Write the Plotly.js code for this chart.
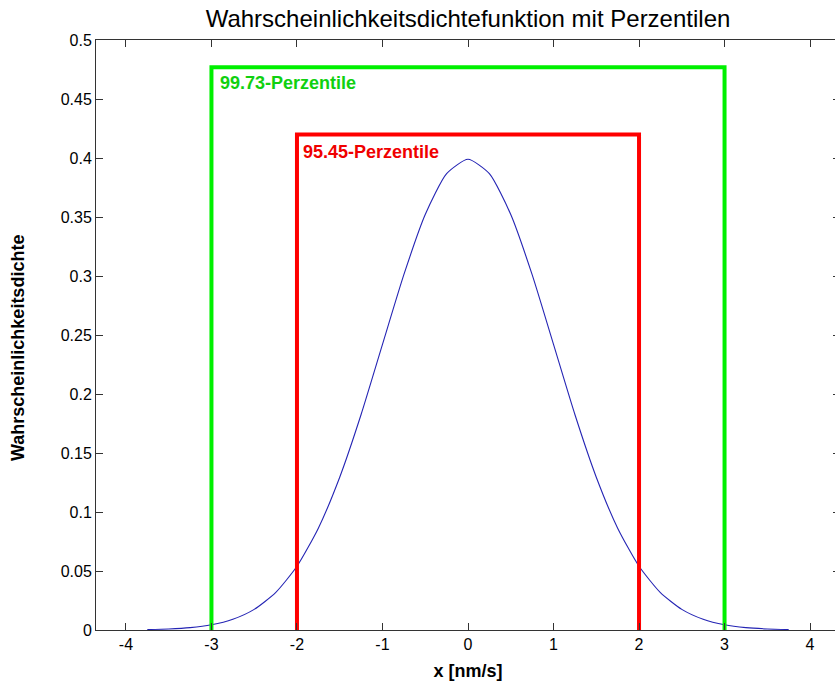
<!DOCTYPE html>
<html>
<head>
<meta charset="utf-8">
<script src="https://cdn.plot.ly/plotly-3.0.1.min.js"></script>
<style>
html,body{margin:0;padding:0;overflow:hidden;background:#fff;}
#chart{width:850px;height:684px;}
</style>
</head>
<body>
<div id="chart"></div>
<script>
// Density curve
const curveX = [-3.75,-3.5,-3.25,-3,-2.75,-2.5,-2.25,-2,-1.75,-1.5,-1.25,-1,-0.75,-0.5,-0.25,0,0.25,0.5,0.75,1,1.25,1.5,1.75,2,2.25,2.5,2.75,3,3.25,3.5,3.75];
const curveY = [0.0004,0.0009,0.002,0.0044,0.0091,0.0175,0.0317,0.054,0.0863,0.1295,0.1826,0.242,0.3011,0.3521,0.3867,0.3989,0.3867,0.3521,0.3011,0.242,0.1826,0.1295,0.0863,0.054,0.0317,0.0175,0.0091,0.0044,0.002,0.0009,0.0004];

// Percentile brackets
const p9973X = [-3,-3,3,3];
const p9973Y = [0,0.477,0.477,0];
const p9545X = [-2,-2,2,2];
const p9545Y = [0,0.42,0.42,0];

const xTickVals = [-4,-3,-2,-1,0,1,2,3,4];
const xTickText = ['-4','-3','-2','-1','0','1','2','3','4'];
const yTickVals = [0,0.05,0.1,0.15,0.2,0.25,0.3,0.35,0.4,0.45,0.5];
const yTickText = ['0','0.05','0.1','0.15','0.2','0.25','0.3','0.35','0.4','0.45','0.5'];

const font = 'Liberation Sans, Arial, Helvetica, sans-serif';

const traces = [
  {x: curveX, y: curveY, mode: 'lines', line: {color: '#2424b4', width: 1.1, shape: 'spline', smoothing: 0.6}, hoverinfo: 'skip'},
  {x: p9973X, y: p9973Y, mode: 'lines', line: {color: '#00f000', width: 4}},
  {x: p9545X, y: p9545Y, mode: 'lines', line: {color: '#ff0000', width: 4}}
];

const layout = {
  width: 850, height: 684,
  margin: {l: 96, r: 10, t: 40, b: 54},
  paper_bgcolor: '#fff', plot_bgcolor: '#fff',
  showlegend: false,
  font: {family: font, color: '#000', size: 16},
  title: {text: 'Wahrscheinlichkeitsdichtefunktion mit Perzentilen', font: {family: font, size: 24, color: '#000'}, x: 0.5, xanchor: 'center', y: 0.973, yanchor: 'middle', xref: 'paper'},
  xaxis: {
    range: [-4.35, 4.35], tickmode: 'array', tickvals: xTickVals, ticktext: xTickText,
    ticks: 'inside', ticklen: 7, tickcolor: '#333', tickwidth: 1,
    showline: true, linecolor: '#333', linewidth: 1, mirror: 'ticks',
    showgrid: false, zeroline: false,
    tickfont: {family: font, size: 16, color: '#000'},
    title: {text: '<b>x [nm/s]</b>', font: {family: font, size: 18, color: '#000'}, standoff: 12}
  },
  yaxis: {
    range: [0, 0.5], tickmode: 'array', tickvals: yTickVals, ticktext: yTickText,
    ticks: 'inside', ticklen: 7, tickcolor: '#333', tickwidth: 1,
    showline: true, linecolor: '#333', linewidth: 1, mirror: 'ticks',
    showgrid: false, zeroline: false,
    tickfont: {family: font, size: 16, color: '#000'}
  },
  annotations: [
    {x: -0.1048, y: 0.478, xref: 'paper', yref: 'paper', text: '<b>Wahrscheinlichkeitsdichte</b>', textangle: -90, showarrow: false, xanchor: 'center', yanchor: 'middle', font: {family: font, size: 18, color: '#000'}},
    {x: -3, y: 0.4635, xref: 'x', yref: 'y', text: '<b>99.73-Perzentile</b>', showarrow: false, xanchor: 'left', yanchor: 'middle', xshift: 7, font: {family: font, size: 18, color: '#10d010'}},
    {x: -2, y: 0.4055, xref: 'x', yref: 'y', text: '<b>95.45-Perzentile</b>', showarrow: false, xanchor: 'left', yanchor: 'middle', xshift: 4, font: {family: font, size: 18, color: '#f00000'}}
  ]
};

Plotly.newPlot('chart', traces, layout, {displayModeBar: false, staticPlot: true});
</script>
</body>
</html>
